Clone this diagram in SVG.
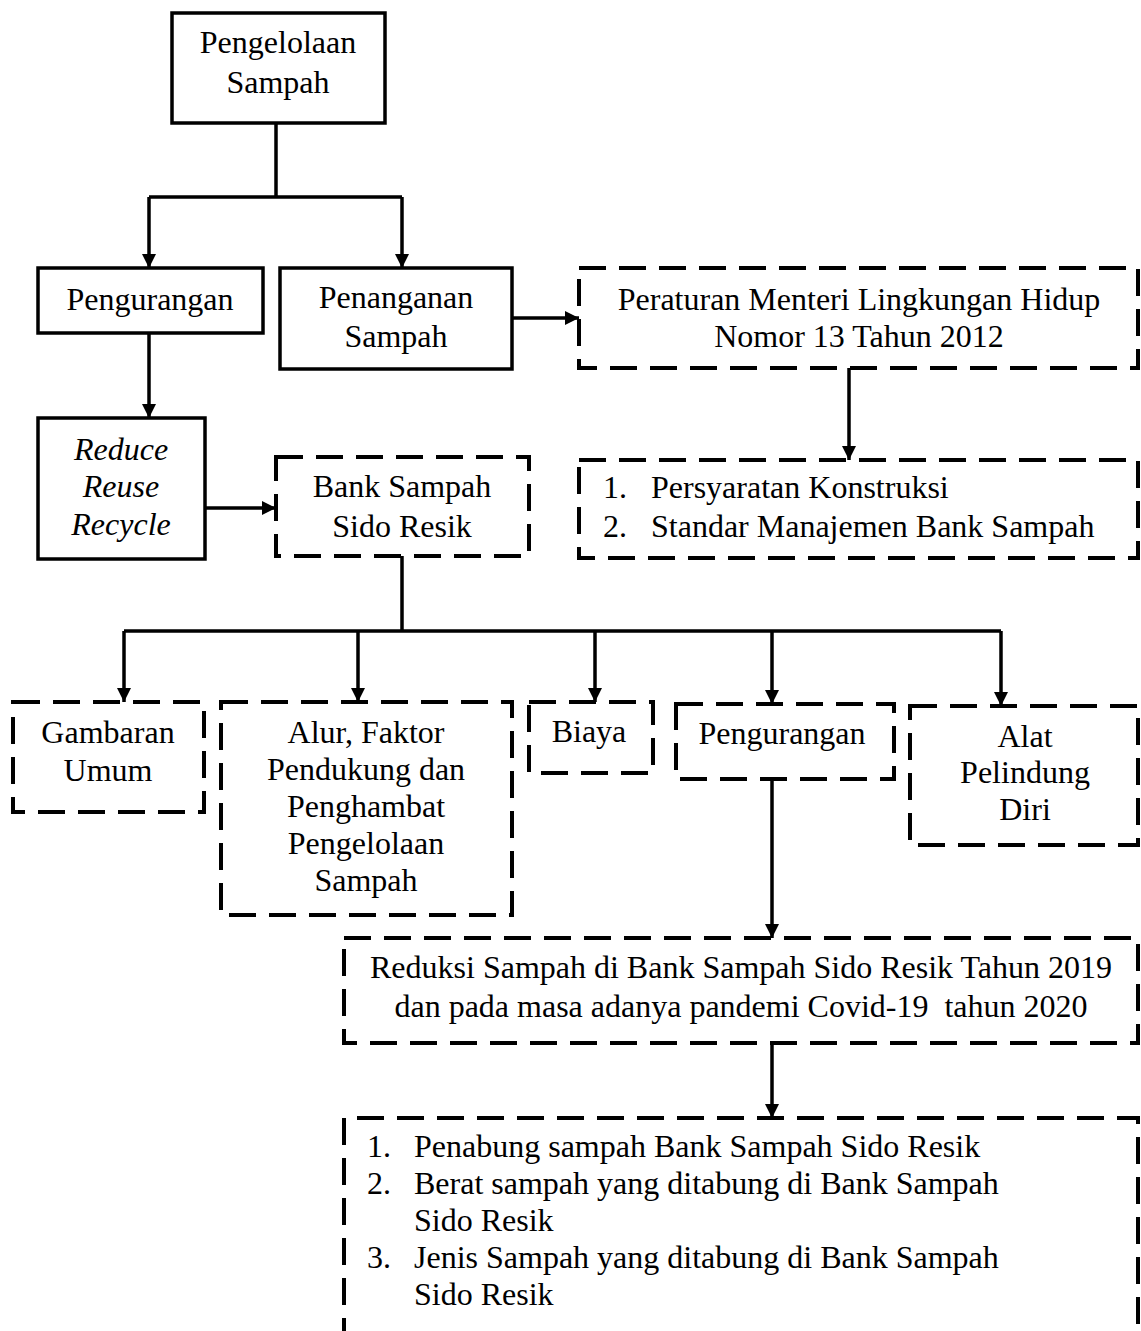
<svg xmlns="http://www.w3.org/2000/svg" width="1141" height="1331" viewBox="0 0 1141 1331">
<style>
  .solid { fill: #fff; stroke: #000; stroke-width: 3.5; }
  .dash { fill: #fff; stroke: #000; stroke-width: 4; stroke-dasharray: 27 13; }
  .conn { fill: none; stroke: #000; stroke-width: 3.5; }
  text { font-family: "Liberation Serif", "Times New Roman", serif; font-size: 32px; fill: #000; }
  .c { text-anchor: middle; }
  .i { font-style: italic; }
</style>
<defs>
  <marker id="ah" markerUnits="userSpaceOnUse" markerWidth="14" markerHeight="14" refX="14" refY="7" orient="auto">
    <path d="M0,0 L14,7 L0,14 z" fill="#000"/>
  </marker>
</defs>
<rect width="1141" height="1331" fill="#fff"/>

<g id="connectors">
  <path class="conn" d="M276,123 V197 M149,197 H402"/>
  <path class="conn" d="M149,197 V268" marker-end="url(#ah)"/>
  <path class="conn" d="M402,197 V268" marker-end="url(#ah)"/>
  <path class="conn" d="M512,318 H579" marker-end="url(#ah)"/>
  <path class="conn" d="M149,333 V418" marker-end="url(#ah)"/>
  <path class="conn" d="M849,368 V460" marker-end="url(#ah)"/>
  <path class="conn" d="M205,508 H276" marker-end="url(#ah)"/>
  <path class="conn" d="M402,556 V631 M124,631 H1001"/>
  <path class="conn" d="M124,631 V702" marker-end="url(#ah)"/>
  <path class="conn" d="M358,631 V702" marker-end="url(#ah)"/>
  <path class="conn" d="M595,631 V702" marker-end="url(#ah)"/>
  <path class="conn" d="M772,631 V704" marker-end="url(#ah)"/>
  <path class="conn" d="M1001,631 V706" marker-end="url(#ah)"/>
  <path class="conn" d="M772,779 V938" marker-end="url(#ah)"/>
  <path class="conn" d="M772,1043 V1118" marker-end="url(#ah)"/>
</g>

<g id="pengelolaan">
  <rect class="solid" x="172" y="13" width="213" height="110"/>
  <text class="c" x="278" y="53">Pengelolaan</text>
  <text class="c" x="278" y="93">Sampah</text>
</g>

<g id="pengurangan">
  <rect class="solid" x="38" y="268" width="225" height="65"/>
  <text class="c" x="150" y="310">Pengurangan</text>
</g>

<g id="penanganan">
  <rect class="solid" x="280" y="268" width="232" height="101"/>
  <text class="c" x="396" y="308">Penanganan</text>
  <text class="c" x="396" y="347">Sampah</text>
</g>

<g id="peraturan">
  <rect class="dash" x="579" y="268" width="559" height="100"/>
  <text class="c" x="859" y="310">Peraturan Menteri Lingkungan Hidup</text>
  <text class="c" x="859" y="347">Nomor 13 Tahun 2012</text>
</g>

<g id="persyaratan">
  <rect class="dash" x="579" y="460" width="559" height="98"/>
  <text x="603" y="498">1.</text>
  <text x="651" y="498">Persyaratan Konstruksi</text>
  <text x="603" y="537">2.</text>
  <text x="651" y="537">Standar Manajemen Bank Sampah</text>
</g>

<g id="reduce">
  <rect class="solid" x="38" y="418" width="167" height="141"/>
  <text class="c i" x="121" y="460">Reduce</text>
  <text class="c i" x="121" y="497">Reuse</text>
  <text class="c i" x="121" y="535">Recycle</text>
</g>

<g id="bank-sampah">
  <rect class="dash" x="276" y="457" width="253" height="99"/>
  <text class="c" x="402" y="497">Bank Sampah</text>
  <text class="c" x="402" y="537">Sido Resik</text>
</g>

<g id="gambaran">
  <rect class="dash" x="13" y="702" width="191" height="110"/>
  <text class="c" x="108" y="743">Gambaran</text>
  <text class="c" x="108" y="781">Umum</text>
</g>

<g id="alur">
  <rect class="dash" x="221" y="702" width="291" height="213"/>
  <text class="c" x="366" y="743">Alur, Faktor</text>
  <text class="c" x="366" y="780">Pendukung dan</text>
  <text class="c" x="366" y="817">Penghambat</text>
  <text class="c" x="366" y="854">Pengelolaan</text>
  <text class="c" x="366" y="891">Sampah</text>
</g>

<g id="biaya">
  <rect class="dash" x="529" y="702" width="124" height="71"/>
  <text class="c" x="589" y="742">Biaya</text>
</g>

<g id="pengurangan-2">
  <rect class="dash" x="676" y="704" width="218" height="75"/>
  <text class="c" x="782" y="744">Pengurangan</text>
</g>

<g id="alat">
  <rect class="dash" x="910" y="706" width="228" height="139"/>
  <text class="c" x="1025" y="747">Alat</text>
  <text class="c" x="1025" y="783">Pelindung</text>
  <text class="c" x="1025" y="820">Diri</text>
</g>

<g id="reduksi">
  <rect class="dash" x="344" y="938" width="794" height="105"/>
  <text class="c" x="741" y="978">Reduksi Sampah di Bank Sampah Sido Resik Tahun 2019</text>
  <text class="c" x="741" y="1017" xml:space="preserve">dan pada masa adanya pandemi Covid-19  tahun 2020</text>
</g>

<g id="penabung">
  <path class="dash" d="M344,1345 V1118 H1138 V1345"/>
  <text x="367" y="1157">1.</text>
  <text x="414" y="1157">Penabung sampah Bank Sampah Sido Resik</text>
  <text x="367" y="1194">2.</text>
  <text x="414" y="1194">Berat sampah yang ditabung di Bank Sampah</text>
  <text x="414" y="1231">Sido Resik</text>
  <text x="367" y="1268">3.</text>
  <text x="414" y="1268">Jenis Sampah yang ditabung di Bank Sampah</text>
  <text x="414" y="1305">Sido Resik</text>
</g>
</svg>
